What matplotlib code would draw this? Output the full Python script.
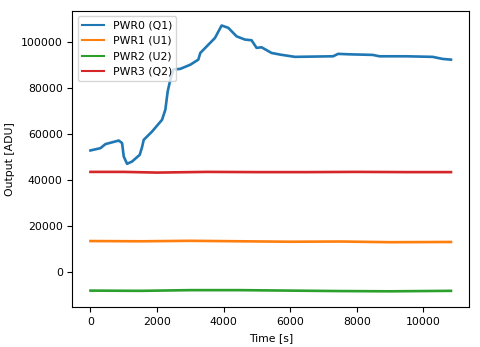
import matplotlib
matplotlib.use("Agg")
import matplotlib.pyplot as plt

plt.rcParams["font.size"] = 7.8

# PWR0 (Q1): time [s] / output [ADU]
t_q1 = [0, 300, 450, 850, 950, 1000, 1100, 1250, 1480, 1550, 1600, 1850,
        2150, 2250, 2320, 2400, 2490, 2700, 3000, 3240, 3300, 3740, 3940,
        4140, 4390, 4640, 4840, 4990, 5140, 5440, 5690, 6140, 7290, 7440,
        7780, 8480, 8680, 9480, 10280, 10580, 10830]
q1 = [52900, 53900, 55650, 57200, 56100, 50260, 47100, 48100, 51000, 54350,
      57500, 61100, 66200, 70600, 78500, 83600, 88000, 88300, 90100, 92300,
      95200, 101700, 107100, 106100, 102400, 101000, 100700, 97400, 97650,
      95200, 94500, 93500, 93750, 94800, 94600, 94350, 93750, 93750, 93500,
      92600, 92300]

# PWR1 (U1)
t_u1 = [0, 1500, 3000, 4500, 6000, 7500, 9000, 10830]
u1 = [13600, 13500, 13700, 13500, 13300, 13400, 13100, 13200]

# PWR2 (U2)
t_u2 = [0, 1500, 3000, 4500, 6000, 7500, 9000, 10830]
u2 = [-7900, -8000, -7700, -7700, -7900, -8100, -8200, -8000]

# PWR3 (Q2)
t_q2 = [0, 1000, 2000, 2500, 3500, 5000, 6500, 8000, 9500, 10830]
q2 = [43600, 43600, 43300, 43400, 43600, 43500, 43500, 43600, 43500, 43500]

fig = plt.figure(figsize=(4.8, 3.47), dpi=100)
ax = fig.add_axes([0.151, 0.114, 0.826, 0.855])

lw = 1.9
ax.plot(t_q1, q1, lw=lw, label="PWR0 (Q1)")
ax.plot(t_u1, u1, lw=lw, label="PWR1 (U1)")
ax.plot(t_u2, u2, lw=lw, label="PWR2 (U2)")
ax.plot(t_q2, q2, lw=lw, label="PWR3 (Q2)")

ax.set_xlim(-540, 11370)
ax.set_ylim(-15200, 113500)
ax.set_xlabel("Time [s]")
ax.set_ylabel("Output [ADU]")
leg = ax.legend(loc="upper left")
for line in leg.get_lines():
    line.set_linewidth(1.5)

fig.savefig("out.png", dpi=100)
